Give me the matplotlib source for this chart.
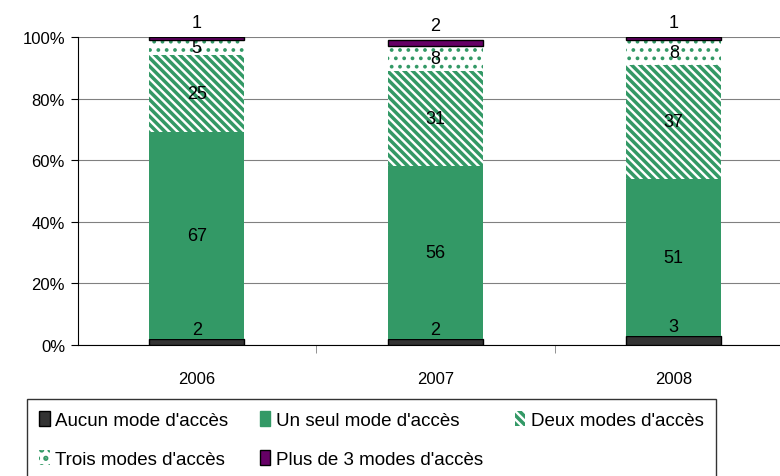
import matplotlib.pyplot as plt
import matplotlib as mpl
import numpy as np
from matplotlib.patches import Patch

plt.rcParams['font.family'] = ['Liberation Sans', 'DejaVu Sans']
mpl.rcParams['hatch.linewidth'] = 2.5

years = ['2006', '2007', '2008']
aucun = [2, 2, 3]
un_seul = [67, 56, 51]
deux = [25, 31, 37]
trois = [5, 8, 8]
plus3 = [1, 2, 1]

series_names = ["Aucun mode d'accès", "Un seul mode d'accès", "Deux modes d'accès",
                "Trois modes d'accès", "Plus de 3 modes d'accès"]

green = '#339966'
dark = '#333333'
purple = '#660066'

fig = plt.figure(figsize=(7.8, 4.77), dpi=100)
ax = fig.add_axes([77.5 / 780, 131 / 477, 715.5 / 780, 308 / 477])

x = np.arange(len(years))
w = 0.40
bottom = np.zeros(len(years))

styles = [
    dict(color=dark, edgecolor='black', linewidth=1.0),
    dict(color=green, edgecolor=green, linewidth=0),
    dict(facecolor='white', edgecolor=green, hatch='\\\\\\\\', linewidth=0),
    dict(facecolor='white', edgecolor=green, hatch='..', linewidth=0),
    dict(color=purple, edgecolor='black', linewidth=1.0),
]
data = [aucun, un_seul, deux, trois, plus3]

for i, (vals, st) in enumerate(zip(data, styles)):
    vals = np.array(vals, dtype=float)
    bars = ax.bar(x, vals, w, bottom=bottom, zorder=3, **st)
    if i == 3:
        for b in bars:
            if hasattr(b, 'set_hatch_linewidth'):
                b.set_hatch_linewidth(1.5)
    for xi, b, v in zip(x, bottom, vals):
        if i == 0:
            ax.text(xi, b + v + 0.3, f'{int(v)}', ha='center', va='bottom', fontsize=13, zorder=5)
        elif i == 4:
            ax.text(xi, b + v + 2.0, f'{int(v)}', ha='center', va='bottom', fontsize=13, zorder=5)
        else:
            ax.text(xi, b + v / 2, f'{int(v)}', ha='center', va='center', fontsize=13, zorder=5)
    bottom += vals

ax.set_ylim(0, 100)
ax.set_xlim(-0.5, 2.5)
ax.set_yticks(np.arange(0, 101, 20))
ax.set_yticklabels([f'{v}%' for v in range(0, 101, 20)], fontsize=12)
ax.yaxis.grid(True, color='#808080', linewidth=0.8, zorder=0)
ax.set_axisbelow(True)

ax.set_xticks(x)
ax.set_xticklabels(years, fontsize=12)
ax.tick_params(axis='x', which='major', length=0, pad=19)
ax.set_xticks([0.5, 1.5], minor=True)
ax.tick_params(axis='x', which='minor', length=6, direction='out', color='#808080')
ax.tick_params(axis='y', length=5, direction='out', pad=4)

for s in ['top', 'right']:
    ax.spines[s].set_visible(False)
ax.spines['left'].set_color('black')
ax.spines['bottom'].set_color('black')

handles = [
    Patch(facecolor=dark, edgecolor='black', label=series_names[0]),
    Patch(facecolor='white', edgecolor=green, hatch='..', linewidth=0, label=series_names[3]),
    Patch(facecolor=green, edgecolor=green, label=series_names[1]),
    Patch(facecolor=purple, edgecolor='black', label=series_names[4]),
    Patch(facecolor='white', edgecolor=green, hatch='\\\\\\\\', linewidth=0, label=series_names[2]),
]
leg = fig.legend(handles=handles, ncol=3, loc='upper left',
                 bbox_to_anchor=(27 / 780, 1 - 400 / 477),
                 fontsize=13.5, frameon=True, fancybox=False, edgecolor='black',
                 handlelength=0.55, handleheight=0.8, handletextpad=0.3,
                 labelspacing=1.15, borderpad=0.65, borderaxespad=0, columnspacing=1.7)
leg.get_frame().set_linewidth(1.0)

fig.savefig('out.png', dpi=100)
